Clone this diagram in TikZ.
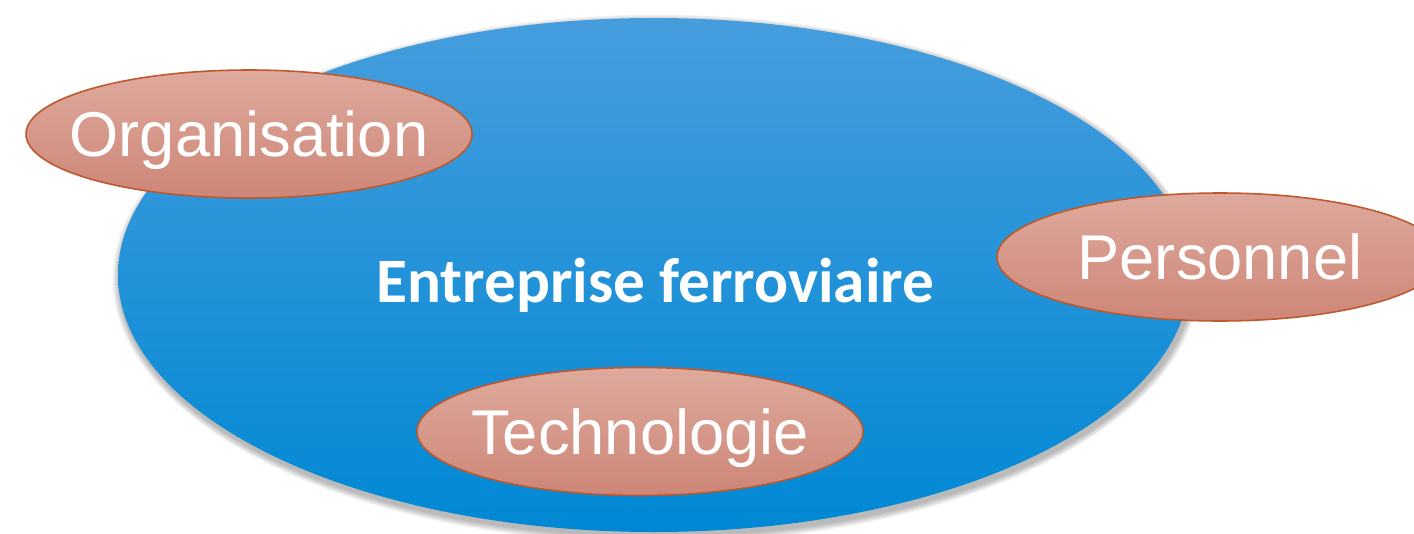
\documentclass[tikz,border=0pt]{standalone}
\usepackage{fontspec}
\setmainfont{Liberation Sans}
\newfontfamily\calibri{Carlito}
\usetikzlibrary{shapes}

\definecolor{skytop}{RGB}{70,157,221}
\definecolor{skybottom}{RGB}{0,136,212}
\definecolor{rosetop}{RGB}{222,170,157}
\definecolor{rosebottom}{RGB}{205,134,119}
\definecolor{roseline}{RGB}{190,88,45}

\tikzset{
	bigoval/.style={ellipse, inner sep=0pt, minimum width=10.72cm, minimum height=5.14cm,
		top color=skytop, bottom color=skybottom},
	ovaltext/.style={text=white, font=\fontsize{18}{20}\selectfont, text height=12.9pt, text depth=0pt, inner sep=0pt},
	smalloval/.style={ellipse, draw=roseline, line width=0.45pt, inner sep=0pt,
		minimum width=4.46cm, minimum height=1.28cm, top color=rosetop, bottom color=rosebottom,
		label={[ovaltext]center:#1}}
}

\begin{document}
\begin{tikzpicture}
			\useasboundingbox (0,0) rectangle (14.14,-5.34);
			\clip (0,0) rectangle (14.14,-5.34);
			\foreach \s in {1,...,6}
				\fill[black, opacity=0.05] (6.56,-2.79) ellipse ({5.36+0.012*\s} and {2.57+0.012*\s});
			\node (E) [bigoval] at (6.54,-2.75){};
			\node (title) [text=white, font=\calibri\bfseries\fontsize{18}{20}\selectfont, text height=11.6pt, text depth=0pt, inner sep=0pt] at (6.555,-2.82){Entreprise ferroviaire};
			
			\node (O) [smalloval=Organisation] at (2.49,-1.34){};
			\node (T) [smalloval=Technologie] at (6.40,-4.315){};
			\node (P) [smalloval=Personnel] at (12.20,-2.57){};
		\end{tikzpicture}
\end{document}
